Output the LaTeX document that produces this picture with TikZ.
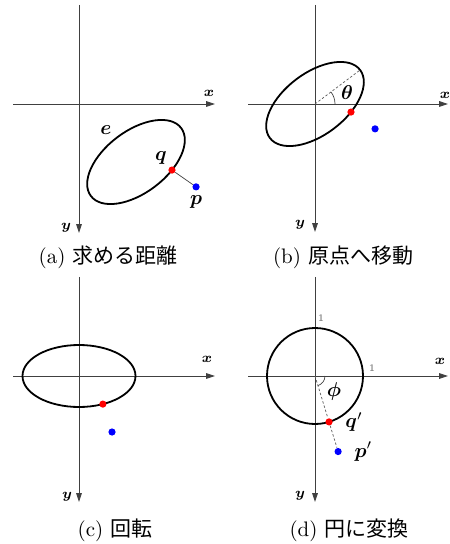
\documentclass[tikz,border=0pt]{standalone}
\usepackage{fontspec}
\newfontfamily\cjk{Noto Sans CJK JP}
\usepackage{amsmath, amssymb}
\usepackage{tikz}
\usetikzlibrary{arrows.meta, positioning}
\tikzset{
	axisline/.style={-{Triangle[length=4.4pt, width=2.8pt]}, line width=0.45pt, black!75},
	axislabel/.style={font=\scriptsize, inner sep=1pt},
	curveline/.style={line width=0.9pt},
	ptdot/.style={circle, fill=#1, inner sep=0pt, minimum size=3.6pt},
	ptlabel/.style={font=\normalsize, inner sep=1pt},
	distline/.style={line width=0.35pt, black!75},
	guideline/.style={dash pattern=on 1.2pt off 1pt, line width=0.35pt, black!65},
	anglearc/.style={line width=0.35pt, black!75},
	unitlabel/.style={font=\tiny, text=black!60, inner sep=1pt},
	subcaption/.style={font=\fontsize{10.5}{12}\selectfont, inner sep=0pt},
}
\begin{document}
\begin{tikzpicture}[x=0.5pt, y=0.5pt]
	\useasboundingbox (0,0) rectangle (449,-544);
	\begin{scope}[shift={(79,-104)}]
		\coordinate (oa) at (0,0);
		\coordinate (xa0) at (-66,0);
		\coordinate (xa1) at (136,0);
		\coordinate (ya0) at (0,99);
		\coordinate (ya1) at (0,-129);
		\draw[axisline] (xa0) -- (xa1);
		\draw[axisline] (ya0) -- (ya1);
		\node[axislabel] (xla) at (130,11) {$\boldsymbol{x}$};
		\node[axislabel] (yla) at (-13,-124) {$\boldsymbol{y}$};
		\begin{scope}[shift={(57,-58)}, rotate=37]
			\draw[curveline] (0,0) ellipse [x radius=56.5, y radius=31];
			\node[ptdot=red] (qa) at (-65:56.5 and 31) {};
			\node[ptdot=blue] (pa) at (33,-56) {};
		\end{scope}
		\draw[distline] (qa) -- (pa);
		\node[ptlabel] (ela) at (27,-26) {$\boldsymbol{e}$};
		\node[ptlabel, above left=0pt and 0pt of qa] (qla) {$\boldsymbol{q}$};
		\node[ptlabel, below=1pt of pa] (pla) {$\boldsymbol{p}$};
	\end{scope}
	\begin{scope}[shift={(315,-104)}]
		\coordinate (ob) at (0,0);
		\coordinate (xb0) at (-67,0);
		\coordinate (xb1) at (133,0);
		\coordinate (yb0) at (0,99);
		\coordinate (yb1) at (0,-128);
		\draw[axisline] (xb0) -- (xb1);
		\draw[axisline] (yb0) -- (yb1);
		\node[axislabel] (xlb) at (130,9) {$\boldsymbol{x}$};
		\node[axislabel] (ylb) at (-15,-121) {$\boldsymbol{y}$};
		\begin{scope}[rotate=37]
			\draw[curveline] (0,0) ellipse [x radius=56.5, y radius=31];
			\coordinate (eb) at (56.5,0);
			\node[ptdot=red] (qb) at (-65:56.5 and 31) {};
			\node[ptdot=blue] (pb) at (33,-56) {};
		\end{scope}
		\draw[guideline] (ob) -- (eb);
		\draw[anglearc] (ob) ++(20,0) arc[start angle=0, end angle=37, radius=20];
		\node[ptlabel] (thb) at (32,11) {$\boldsymbol{\theta}$};
	\end{scope}
	\begin{scope}[shift={(79,-376)}]
		\coordinate (oc) at (0,0);
		\coordinate (xc0) at (-66,0);
		\coordinate (xc1) at (136,0);
		\coordinate (yc0) at (0,99);
		\coordinate (yc1) at (0,-126);
		\draw[axisline] (xc0) -- (xc1);
		\draw[axisline] (yc0) -- (yc1);
		\node[axislabel] (xlc) at (128,17) {$\boldsymbol{x}$};
		\node[axislabel] (ylc) at (-12,-121) {$\boldsymbol{y}$};
		\draw[curveline] (oc) ellipse [x radius=56.5, y radius=31];
		\node[ptdot=red] (qc) at (-65:56.5 and 31) {};
		\node[ptdot=blue] (pc) at (33,-56) {};
	\end{scope}
	\begin{scope}[shift={(315,-376)}]
		\coordinate (od) at (0,0);
		\coordinate (xd0) at (-67,0);
		\coordinate (xd1) at (133,0);
		\coordinate (yd0) at (0,99);
		\coordinate (yd1) at (0,-126);
		\draw[axisline] (xd0) -- (xd1);
		\draw[axisline] (yd0) -- (yd1);
		\node[axislabel] (xld) at (125,15) {$\boldsymbol{x}$};
		\node[axislabel] (yld) at (-15,-120) {$\boldsymbol{y}$};
		\draw[curveline] (od) circle [radius=48];
		\node[unitlabel] (u1y) at (6,58) {1};
		\node[unitlabel] (u1x) at (57,8) {1};
		\node[ptdot=red] (qd) at (-73:48) {};
		\node[ptdot=blue] (pd) at (-73:79) {};
		\draw[guideline] (od) -- (qd);
		\draw[guideline] (qd) -- (pd);
		\draw[anglearc] (od) ++(10,0) arc[start angle=0, end angle=-73, radius=10];
		\node[ptlabel] (phd) at (19,-15) {$\boldsymbol{\phi}$};
		\node[ptlabel, right=5pt of qd] (qld) {$\boldsymbol{q}'$};
		\node[ptlabel, right=5pt of pd] (pld) {$\boldsymbol{p}'$};
	\end{scope}
	\node[subcaption] (capa) at (108,-257) {(a) {\cjk 求める距離}};
	\node[subcaption] (capb) at (343,-257) {(b) {\cjk 原点へ移動}};
	\node[subcaption] (capc) at (115,-530) {(c) {\cjk 回転}};
	\node[subcaption] (capd) at (349,-530) {(d) {\cjk 円に変換}};
\end{tikzpicture}
\end{document}
